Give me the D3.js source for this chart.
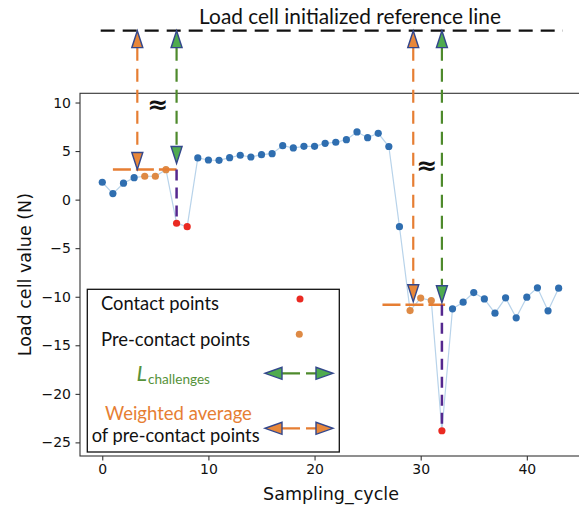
<!DOCTYPE html>
<html><head><meta charset="utf-8">
<script src="https://cdn.jsdelivr.net/npm/d3@7"></script>
<style>body{margin:0;background:#fff} svg{display:block}</style>
</head><body>
<svg id="chart" width="579" height="510"></svg>
<script>
// ---------- data ----------
const cycles = [0,1,2,3,4,5,6,7,8,9,10,11,12,13,14,15,16,17,18,19,20,21,22,23,24,25,26,27,28,29,30,31,32,33,34,35,36,37,38,39,40,41,42,43];
const loadValues = [1.79,0.62,1.69,2.26,2.41,2.41,3.09,-2.43,-2.78,4.29,4.08,4.05,4.32,4.57,4.39,4.63,4.73,5.56,5.32,5.49,5.49,5.80,5.91,6.17,6.97,6.38,6.83,5.47,-2.78,-11.42,-10.14,-10.39,-23.8,-11.24,-10.56,-9.57,-10.22,-11.69,-10.11,-12.17,-10.04,-9.08,-11.45,-9.12];
const contactCycles = [7,8,32];
const preContactCycles = [4,5,6,29,30,31];
const xTicks = [0,10,20,30,40];
const yTicks = [10,5,0,-5,-10,-15,-20,-25];
const xLabel = "Sampling_cycle";
const yLabel = "Load cell value (N)";
const titleText = "Load cell initialized reference line";

// annotation values (in data units)
const refLineValue = 17.4;
const refLineStart = -0.15, refLineEnd = 43.4;
const weightedAvgLevels = [3.1, -10.83];
const weightedAvgCycles = [3.3, 29.3];
const contactOnsetCycles = [7, 32];
const contactMinValues = [-2.43, -23.8];
const avgSpanStart = [1.0, 26.4];
const avgSpanEnd = [7.0, 32.3];
const approxCycles = [5.25, 30.6];
const approxValues = [9.8, 3.47];
const legendLabels = ["Contact points", "Pre-contact points", "L", "challenges", "Weighted average", "of pre-contact points"];

// ---------- setup ----------
const svg = d3.select("#chart");
const pL = 80, pR = 582, pT = 93.3, pB = 456;
const x = d3.scaleLinear().domain([-2.1, 45.2]).range([pL, pR]);
const y = d3.scaleLinear().domain([-26.4, 10.95]).range([pB, pT]);

const colBlue = "#2f6eb0", colLine = "#b8d3ea", colRed = "#ea2a22", colOrangePt = "#de8a45";
const colOrange = "#e67e33", colGreen = "#4e8a2c", colGreenFill = "#4fab4f", colOrangeFill = "#e8873a";
const colTriStroke = "#33478c", colPurple = "#55288f";
const annFont = "Lato, 'Open Sans', sans-serif";
const fmt = d => d < 0 ? "\u2212" + Math.abs(d) : String(d);

function fit(sel, target) {
  const w = sel.node().getComputedTextLength();
  const fs = parseFloat(sel.attr("font-size"));
  if (w > 0) sel.attr("font-size", fs * target / w);
  return sel;
}

// ---------- axes ----------
const gx = svg.append("g").attr("transform", `translate(0,${pB})`)
  .call(d3.axisBottom(x).tickValues(xTicks).tickSize(4.5).tickPadding(4).tickFormat(fmt));
const gy = svg.append("g").attr("transform", `translate(${pL},0)`)
  .call(d3.axisLeft(y).tickValues(yTicks).tickSize(4.5).tickPadding(4.5).tickFormat(fmt));
[gx, gy].forEach(g => {
  g.select(".domain").remove();
  g.selectAll(".tick line").attr("stroke", "#222").attr("stroke-width", 1);
  g.selectAll(".tick text").attr("font-family", "'DejaVu Sans', sans-serif").attr("font-size", 14).attr("fill", "#111");
});
svg.append("rect").attr("x", pL).attr("y", pT).attr("width", pR - pL).attr("height", pB - pT)
  .attr("fill", "none").attr("stroke", "#333").attr("stroke-width", 1.1);

svg.append("text").attr("x", (pL + pR) / 2).attr("y", 500).attr("text-anchor", "middle")
  .attr("font-family", "'DejaVu Sans', sans-serif").attr("font-size", 17.5).attr("fill", "#111").text(xLabel);
svg.append("text").attr("transform", `translate(31,${(pT + pB) / 2}) rotate(-90)`).attr("text-anchor", "middle")
  .attr("font-family", "'DejaVu Sans', sans-serif").attr("font-size", 17.5).attr("fill", "#111").text(yLabel);

// ---------- data line and points ----------
const pts = cycles.map((c, i) => ({c, v: loadValues[i]}));
svg.append("path").datum(pts)
  .attr("d", d3.line().x(d => x(d.c)).y(d => y(d.v)))
  .attr("fill", "none").attr("stroke", colLine).attr("stroke-width", 1.2);
svg.append("g").selectAll("circle").data(pts).join("circle")
  .attr("cx", d => x(d.c)).attr("cy", d => y(d.v)).attr("r", 3.6)
  .attr("fill", d => contactCycles.includes(d.c) ? colRed : preContactCycles.includes(d.c) ? colOrangePt : colBlue);

// ---------- annotations ----------
const tri = (cx, tipY, dir, fill) => {
  const h = 17, hw = 5.5, by = dir === "down" ? tipY - h : tipY + h;
  svg.append("path").attr("d", `M${cx - hw},${by}L${cx + hw},${by}L${cx},${tipY}Z`)
    .attr("fill", fill).attr("stroke", colTriStroke).attr("stroke-width", 1.4).attr("stroke-linejoin", "miter");
};
const hTri = (tipX, cy, dir, fill) => {
  const l = 17, hh = 6, bx = dir === "left" ? tipX + l : tipX - l;
  svg.append("path").attr("d", `M${bx},${cy - hh}L${bx},${cy + hh}L${tipX},${cy}Z`)
    .attr("fill", fill).attr("stroke", colTriStroke).attr("stroke-width", 1.4);
};
const refY = y(refLineValue);

svg.append("line").attr("x1", x(refLineStart)).attr("x2", x(refLineEnd)).attr("y1", refY).attr("y2", refY)
  .attr("stroke", "#111").attr("stroke-width", 2.3).attr("stroke-dasharray", "14,8");
const title = svg.append("text").attr("x", 350).attr("y", 23.5).attr("text-anchor", "middle")
  .attr("font-family", annFont).attr("font-size", 20).attr("fill", "#111").text(titleText);
fit(title, 302);

const greenTipOffset = [6, 2], orangeTipOffset = [0, 3];
weightedAvgLevels.forEach((lvl, i) => {
  const ly = y(lvl);
  const ox = x(weightedAvgCycles[i]), gxp = x(contactOnsetCycles[i]);
  svg.append("line").attr("x1", x(avgSpanStart[i])).attr("x2", x(avgSpanEnd[i])).attr("y1", ly).attr("y2", ly)
    .attr("stroke", colOrange).attr("stroke-width", 2.4).attr("stroke-dasharray", "18,5");
  svg.append("line").attr("x1", gxp).attr("x2", gxp).attr("y1", ly).attr("y2", y(contactMinValues[i]) - 3)
    .attr("stroke", colPurple).attr("stroke-width", 2.5).attr("stroke-dasharray", "11,7");
  const oTip = ly - orangeTipOffset[i];
  svg.append("line").attr("x1", ox).attr("x2", ox).attr("y1", refY + 17).attr("y2", oTip - 17)
    .attr("stroke", colOrange).attr("stroke-width", 2.2).attr("stroke-dasharray", "13,8");
  tri(ox, refY, "up", colOrangeFill);
  tri(ox, oTip, "down", colOrangeFill);
  const gTip = ly - greenTipOffset[i];
  svg.append("line").attr("x1", gxp).attr("x2", gxp).attr("y1", refY + 17).attr("y2", gTip - 17)
    .attr("stroke", colGreen).attr("stroke-width", 2.2).attr("stroke-dasharray", "13,8");
  tri(gxp, refY, "up", colGreenFill);
  tri(gxp, gTip, "down", colGreenFill);
  svg.append("text").attr("x", x(approxCycles[i])).attr("y", y(approxValues[i])).attr("text-anchor", "middle")
    .attr("dominant-baseline", "central").attr("font-family", "'DejaVu Sans', sans-serif")
    .attr("font-weight", "bold").attr("font-size", 25).attr("fill", "#111").text("\u2248");
});

// ---------- legend ----------
svg.append("rect").attr("x", 87.3).attr("y", 289.3).attr("width", 252).attr("height", 162.7)
  .attr("fill", "#fff").attr("stroke", "#111").attr("stroke-width", 1.3);
const lt = (txt, xx, yy, fs, target, color, extra) => {
  const t = svg.append("text").attr("x", xx).attr("y", yy).attr("font-family", annFont)
    .attr("font-size", fs).attr("fill", color).text(txt);
  if (extra) extra(t);
  return fit(t, target);
};
lt(legendLabels[0], 101, 310, 17, 118, "#111");
lt(legendLabels[1], 101, 346, 17, 149, "#111");
lt(legendLabels[2], 136.5, 380.7, 20, 10.5, "#56923a", t => t.attr("font-style", "italic"));
lt(legendLabels[3], 148, 383.5, 13, 62, "#56923a");
lt(legendLabels[4], 105, 420, 19, 147, colOrange);
lt(legendLabels[5], 91.7, 442, 17, 168, "#111");
svg.append("circle").attr("cx", 300).attr("cy", 299).attr("r", 3.5).attr("fill", colRed);
svg.append("circle").attr("cx", 299.3).attr("cy", 334.3).attr("r", 3.5).attr("fill", colOrangePt);

[[373.3, colGreen, colGreenFill], [428.3, colOrange, colOrangeFill]].forEach(([ly, lc, fc]) => {
  svg.append("line").attr("x1", 282).attr("x2", 316).attr("y1", ly).attr("y2", ly)
    .attr("stroke", lc).attr("stroke-width", 2.2).attr("stroke-dasharray", "18,6");
  hTri(265, ly, "left", fc);
  hTri(333, ly, "right", fc);
});
</script>
</body></html>
